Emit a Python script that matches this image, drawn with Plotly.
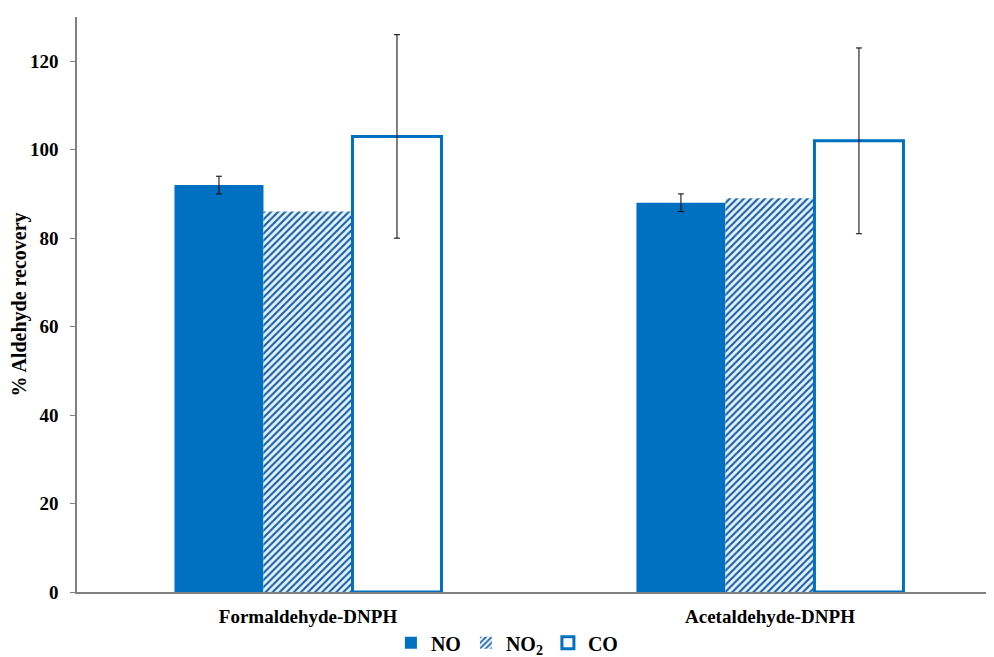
import plotly.graph_objects as go

categories = ["Formaldehyde-DNPH", "Acetaldehyde-DNPH"]
series_names = ["NO", "NO<sub>2</sub>", "CO"]
no_values = [92, 88]
no_errors = [2, 2]
no2_values = [86, 89]
co_values = [103, 102]
co_errors = [23, 21]
y_ticks = [0, 20, 40, 60, 80, 100, 120]

BLUE = "#0070C0"
FONT = "Liberation Serif"

fig = go.Figure()
fig.add_trace(go.Bar(
    name=series_names[0], x=categories, y=no_values,
    marker=dict(color=BLUE, line=dict(width=0)),
    error_y=dict(type="data", array=no_errors, color="black", thickness=1, width=3),
))
fig.add_trace(go.Bar(
    name=series_names[1], x=categories, y=no2_values,
    marker=dict(color="#E3F2FC", line=dict(width=0),
                pattern=dict(shape="/", fgcolor="#1D62A6", bgcolor="#E8F4FC",
                             size=5, solidity=0.42, fgopacity=1)),
))
fig.add_trace(go.Bar(
    name=series_names[2], x=categories, y=co_values,
    marker=dict(color="white", line=dict(color=BLUE, width=3)),
    error_y=dict(type="data", array=co_errors, color="black", thickness=1, width=3),
))

fig.update_layout(
    width=986, height=649,
    margin=dict(l=69, r=0, t=9, b=65, autoexpand=False),
    plot_bgcolor="white", paper_bgcolor="white",
    barmode="group", bargap=0.422, bargroupgap=0,
    font=dict(family=FONT, color="black", size=18),
    showlegend=True,
    legend=dict(orientation="h", xref="container", x=0.506, xanchor="center",
                yref="container", y=0.022, yanchor="middle",
                font=dict(family=FONT, size=20, color="black"),
                itemwidth=30, tracegroupgap=0, traceorder="normal"),
)
fig.update_xaxes(
    type="category", range=[-0.5, 1.485], automargin=False,
    showline=True, linecolor="#808080", linewidth=1.5,
    ticks="", ticklabelstandoff=6,
    tickfont=dict(family=FONT, size=19, color="black"),
    ticktext=["<b>%s</b>" % c for c in categories], tickvals=categories,
    showgrid=False,
)
fig.update_yaxes(
    range=[0, 130], tickvals=y_ticks, automargin=False,
    ticktext=["<b>%d</b>" % v for v in y_ticks],
    showline=True, linecolor="#808080", linewidth=1.5,
    ticks="outside", ticklen=5, tickcolor="#808080", ticklabelstandoff=8,
    tickfont=dict(family=FONT, size=19, color="black"),
    showgrid=False, zeroline=False,
    title=dict(text="<b>% Aldehyde recovery</b>", font=dict(family=FONT, size=20, color="black"), standoff=6),
)
fig.for_each_trace(lambda t: t.update(name="<b>%s</b>" % t.name))

fig.write_html("out.html")
